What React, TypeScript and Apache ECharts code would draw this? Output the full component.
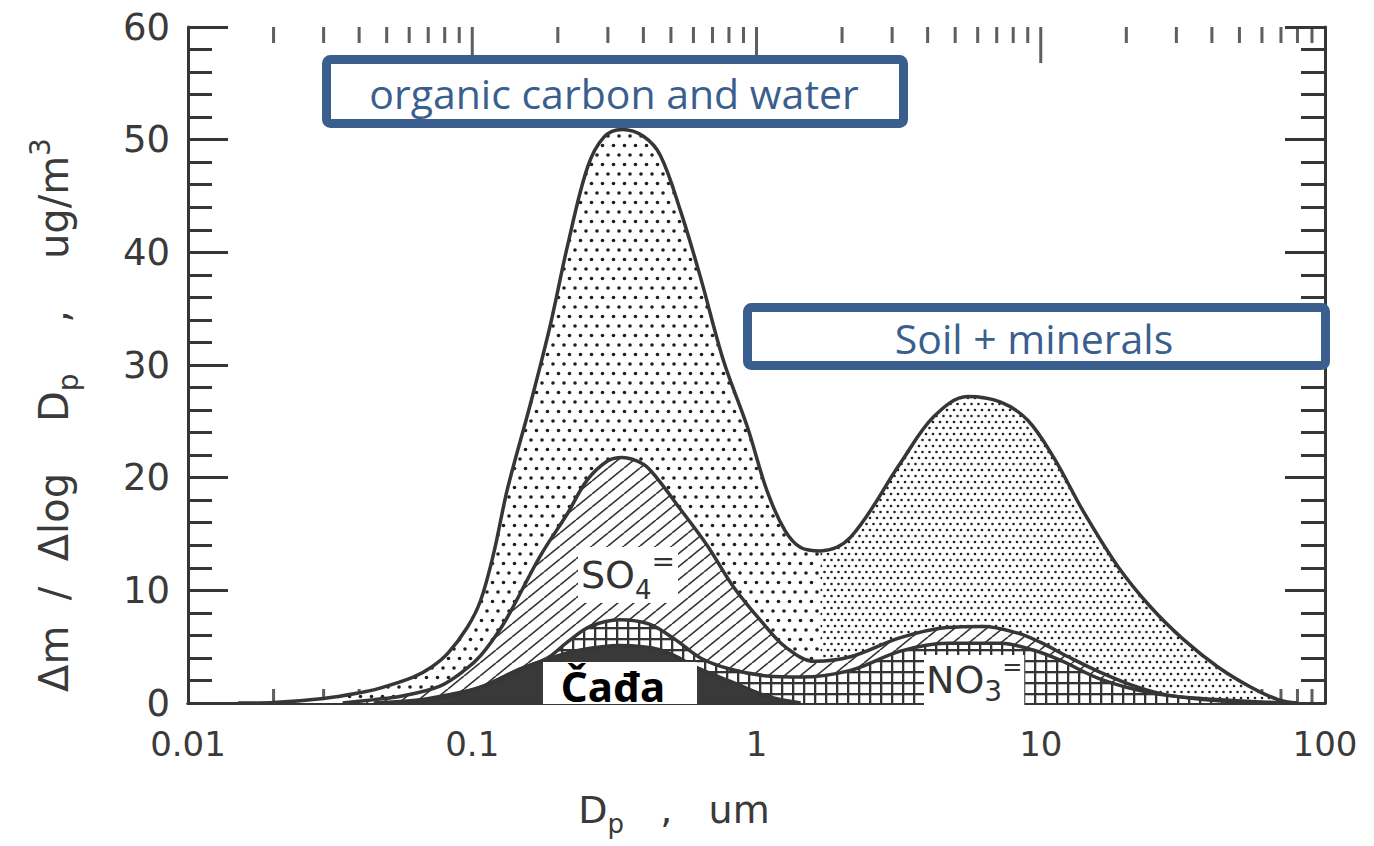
import React, { useEffect, useRef } from "react";
import * as echarts from "echarts";

// ---- data (Dp in µm, cumulative Δm/Δlog Dp in µg/m³) ----
const xTickLabels = ["0.01", "0.1", "1", "10", "100"];

// upper envelope, fine part (organic carbon and water region)
const totalFine: [number, number][] = [
  [0.015, 0], [0.02, 0.05], [0.03, 0.4], [0.04, 0.9], [0.047, 1.3], [0.062, 2.3],
  [0.072, 3.2], [0.082, 4.4], [0.096, 6.7], [0.107, 9.1], [0.119, 13.3], [0.133, 19.0],
  [0.16, 26.5], [0.188, 33.5], [0.216, 40.5], [0.254, 47.5], [0.29, 50.2], [0.337, 50.9],
  [0.4, 50.3], [0.459, 48.6], [0.54, 43.7], [0.635, 37.8], [0.765, 30.4], [0.929, 24.5],
  [1.09, 18.8], [1.26, 15.3], [1.43, 13.8], [1.68, 13.5],
];

// upper envelope, coarse part (soil + minerals region)
const totalCoarse: [number, number][] = [
  [1.68, 13.5], [2.14, 14.7], [3.21, 21.3], [4.2, 25.4], [5.53, 27.2], [7.23, 26.7],
  [9.0, 25.1], [11.1, 21.8], [14.2, 16.9], [18.7, 12.1], [24.4, 8.5], [31.9, 5.6],
  [42, 3.2], [54.9, 1.4], [68.4, 0.3], [80, 0],
];

// top of the sulfate (hatched) layer
const sulfateTop: [number, number][] = [
  [0.035, 0], [0.045, 0.3], [0.056, 0.6], [0.077, 1.5], [0.095, 3], [0.107, 4.2],
  [0.125, 6.5], [0.139, 8.5], [0.173, 13], [0.216, 16.8], [0.254, 19.8], [0.3, 21.5],
  [0.337, 21.8], [0.4, 21.2], [0.445, 20], [0.54, 17.2], [0.67, 14], [0.83, 10.3],
  [1.06, 7.0], [1.26, 5.0], [1.6, 3.7], [2.14, 4.1], [3.21, 5.8], [4.67, 6.7],
  [6.3, 6.8], [8.3, 6.2], [9.95, 5.4], [12.5, 4.1], [16.3, 2.7], [21.4, 1.5],
  [28, 0.7], [42, 0.2], [65, 0],
];

// top of the nitrate (grid) layer
const nitrateTop: [number, number][] = [
  [0.06, 0], [0.077, 0.4], [0.107, 1.4], [0.147, 3.0], [0.184, 4.0], [0.216, 5.4],
  [0.26, 6.8], [0.33, 7.4], [0.42, 7.0], [0.52, 5.6], [0.635, 4.0], [0.81, 3.0],
  [1.09, 2.4], [1.43, 2.3], [2.14, 2.9], [3.21, 4.6], [4.67, 5.3], [7.23, 5.3],
  [9.4, 4.7], [11.7, 3.8], [16.3, 2.1], [24.4, 0.9], [36.7, 0.4], [60, 0.1], [76, 0],
];

// top of the soot (Čađa, solid) layer
const sootTop: [number, number][] = [
  [0.045, 0], [0.0655, 0.3], [0.085, 0.8], [0.107, 1.4], [0.147, 3.0], [0.184, 3.9],
  [0.24, 4.7], [0.33, 5.1], [0.46, 4.7], [0.635, 3.0], [0.83, 1.8], [1.09, 0.6], [1.43, 0],
];

// log ticks drawn on the top and bottom frame lines
const minorTickValues = [
  0.02, 0.03, 0.04, 0.05, 0.06, 0.07, 0.08, 0.09,
  0.2, 0.3, 0.4, 0.5, 0.6, 0.7, 0.8, 0.9,
  2, 3, 4, 5, 6, 7, 8, 9,
  20, 30, 40, 50, 60, 70, 80, 90,
];
const majorTickValues = [0.1, 1, 10];

const INK = "#363636";
const BLUE = "#3a5f8e";
const AXIS_FONT = "DejaVu Sans";
const LABEL_INK = "#3a3a3a";

function makeTile(w: number, h: number, draw: (c: CanvasRenderingContext2D) => void) {
  const c = document.createElement("canvas");
  c.width = w;
  c.height = h;
  const ctx = c.getContext("2d")!;
  ctx.fillStyle = "#ffffff";
  ctx.fillRect(0, 0, w, h);
  draw(ctx);
  return { image: c, repeat: "repeat", imageWidth: w, imageHeight: h } as any;
}

function dots(ctx: CanvasRenderingContext2D, pts: number[][], r: number) {
  ctx.fillStyle = "#1e1e1e";
  pts.forEach(([x, y]) => {
    ctx.beginPath();
    ctx.arc(x, y, r, 0, Math.PI * 2);
    ctx.fill();
  });
}

export default function App() {
  const ref = useRef<HTMLDivElement>(null);

  useEffect(() => {
    document.body.style.margin = "0";
    if (!ref.current) return;
    const chart = echarts.init(ref.current, null, { renderer: "svg" });

    const sparseDots = makeTile(22, 19, (c) =>
      dots(c, [[3, 3], [14, 3], [8.5, 12.5], [19.5, 12.5]], 1.8)
    );
    const denseDots = makeTile(14, 12, (c) =>
      dots(c, [[2, 2], [9, 2], [5.5, 8], [12.5, 8]], 1.3)
    );
    const hatch = makeTile(16, 13, (c) => {
      c.strokeStyle = "#333";
      c.lineWidth = 1.6;
      [[0, 13, 16, 0], [-16, 13, 0, 0], [16, 13, 32, 0]].forEach(([a, b, d, e]) => {
        c.beginPath();
        c.moveTo(a, b);
        c.lineTo(d, e);
        c.stroke();
      });
    });
    const grid = makeTile(11, 11, (c) => {
      c.fillStyle = "#333";
      c.fillRect(0, 0, 11, 2.3);
      c.fillRect(0, 0, 2.3, 11);
    });

    const lineW = 3.5;
    const areaSeries = (name: string, data: [number, number][], fill: any, showLine: boolean) => ({
      name,
      type: "line",
      data,
      smooth: 0.35,
      symbol: "none",
      silent: true,
      itemStyle: { color: INK },
      lineStyle: { color: INK, width: showLine ? lineW : 0 },
      areaStyle: { color: fill, opacity: 1, origin: "start" },
    });

    const tickStyle = { color: INK, width: 3 };
    const tickSeries = (values: number[], y: number, h: number, dir: number, z: number) => ({
      type: "scatter",
      data: values.map((v) => [v, y]),
      symbol: "rect",
      symbolSize: [3, h],
      symbolOffset: [0, (dir * h) / 2],
      itemStyle: { color: INK },
      silent: true,
      clip: false,
      z,
    });

    const option: any = {
      animation: false,
      grid: { left: 188, right: 49, top: 27, bottom: 143 },
      xAxis: [
        {
          type: "log",
          logBase: 10,
          min: 0.01,
          max: 100,
          position: "bottom",
          axisLine: { show: true, lineStyle: { color: INK, width: 3 } },
          axisTick: { show: false },
          minorTick: { show: false },
          splitLine: { show: false },
          axisLabel: {
            formatter: (_v: number, i: number) => xTickLabels[i] ?? "",
            fontSize: 34,
            fontFamily: AXIS_FONT,
            color: LABEL_INK,
            margin: 24,
          },
          name: "D{sub|p}   ,   um",
          nameLocation: "middle",
          nameGap: 80,
          nameTextStyle: {
            fontSize: 38,
            fontFamily: AXIS_FONT,
            color: LABEL_INK,
            lineHeight: 54,
            padding: [0, 165, 0, 0],
            rich: {
              sub: { fontSize: 26, fontFamily: AXIS_FONT, color: LABEL_INK, verticalAlign: "bottom", lineHeight: 54 },
            },
          },
        },
        {
          type: "log",
          logBase: 10,
          min: 0.01,
          max: 100,
          position: "top",
          axisLine: { show: true, lineStyle: { color: INK, width: 3 } },
          axisTick: { show: false },
          minorTick: { show: false },
          splitLine: { show: false },
          axisLabel: { show: false },
        },
      ],
      yAxis: [
        {
          type: "value",
          min: 0,
          max: 60,
          interval: 10,
          position: "left",
          axisLine: { show: true, lineStyle: { color: INK, width: 3 } },
          axisTick: { show: true, inside: true, length: 40, lineStyle: tickStyle },
          minorTick: { show: true, splitNumber: 5, length: 24, lineStyle: tickStyle },
          splitLine: { show: false },
          axisLabel: { fontSize: 37, fontFamily: AXIS_FONT, color: LABEL_INK, margin: 18 },
          name: "Δm  /  Δlog    D{sub|p}    ,    ug/m{sup|3}",
          nameLocation: "middle",
          nameGap: 106,
          nameTextStyle: {
            fontSize: 40,
            fontFamily: AXIS_FONT,
            color: LABEL_INK,
            lineHeight: 56,
            padding: [0, 100, 0, 0],
            rich: {
              sub: { fontSize: 28, fontFamily: AXIS_FONT, color: LABEL_INK, verticalAlign: "bottom", lineHeight: 56 },
              sup: { fontSize: 28, fontFamily: AXIS_FONT, color: LABEL_INK, verticalAlign: "top", lineHeight: 56 },
            },
          },
        },
        {
          type: "value",
          min: 0,
          max: 60,
          interval: 10,
          position: "right",
          axisLine: { show: true, lineStyle: { color: INK, width: 3 } },
          axisTick: { show: true, inside: true, length: 40, lineStyle: tickStyle },
          minorTick: { show: true, splitNumber: 5, length: 24, lineStyle: tickStyle },
          splitLine: { show: false },
          axisLabel: { show: false },
        },
      ],
      series: [
        tickSeries(minorTickValues, 0, 14, -1, 1),
        tickSeries(majorTickValues, 0, 18, -1, 1),
        areaSeries("organic carbon and water", totalFine, sparseDots, false),
        areaSeries("soil + minerals", totalCoarse, denseDots, false),
        areaSeries("SO4", sulfateTop, hatch, true),
        areaSeries("NO3", nitrateTop, grid, true),
        areaSeries("Čađa", sootTop, "#393939", true),
        {
          name: "total",
          type: "line",
          data: totalFine.concat(totalCoarse.slice(1)),
          smooth: 0.35,
          symbol: "none",
          silent: true,
          lineStyle: { color: INK, width: lineW },
          itemStyle: { color: INK },
          z: 5,
        },
        tickSeries(minorTickValues, 60, 16, 1, 6),
        tickSeries(majorTickValues, 60, 36, 1, 6),
      ],
      graphic: [
        {
          type: "rect",
          z: 100,
          shape: { x: 326.5, y: 59.5, width: 577, height: 64, r: 4 },
          style: { fill: "#ffffff", stroke: BLUE, lineWidth: 9 },
        },
        {
          type: "text",
          z: 101,
          x: 614,
          y: 93,
          style: {
            text: "organic carbon and water",
            fontSize: 41,
            fontFamily: "Open Sans",
            fill: BLUE,
            align: "center",
            verticalAlign: "middle",
          },
        },
        {
          type: "rect",
          z: 100,
          shape: { x: 747.5, y: 307.5, width: 578, height: 58, r: 4 },
          style: { fill: "#ffffff", stroke: BLUE, lineWidth: 9 },
        },
        {
          type: "text",
          z: 101,
          x: 1034,
          y: 338,
          style: {
            text: "Soil + minerals",
            fontSize: 41,
            fontFamily: "Open Sans",
            fill: BLUE,
            align: "center",
            verticalAlign: "middle",
          },
        },
        {
          type: "rect",
          z: 100,
          shape: { x: 543, y: 662, width: 154, height: 42 },
          style: { fill: "#ffffff" },
        },
        {
          type: "text",
          z: 101,
          x: 613,
          y: 685,
          style: {
            text: "Čađa",
            fontSize: 42,
            fontWeight: "bold",
            fontFamily: "Noto Sans",
            fill: "#000000",
            align: "center",
            verticalAlign: "middle",
          },
        },
        {
          type: "text",
          z: 101,
          x: 578,
          y: 575,
          style: {
            text: "{m|SO}{s|4}{e|=}",
            backgroundColor: "#ffffff",
            padding: [0, 3, 0, 3],
            rich: {
              m: { fontSize: 38, fontFamily: AXIS_FONT, fill: "#333", verticalAlign: "middle", lineHeight: 56 },
              s: { fontSize: 26, fontFamily: AXIS_FONT, fill: "#333", verticalAlign: "bottom", lineHeight: 56 },
              e: { fontSize: 28, fontFamily: AXIS_FONT, fill: "#333", verticalAlign: "top", lineHeight: 56 },
            },
            verticalAlign: "middle",
          },
        },
        {
          type: "text",
          z: 101,
          x: 924,
          y: 680,
          style: {
            text: "{m|NO}{s|3}{e|=}",
            backgroundColor: "#ffffff",
            padding: [0, 2, 0, 2],
            rich: {
              m: { fontSize: 38, fontFamily: AXIS_FONT, fill: "#333", verticalAlign: "middle", lineHeight: 50 },
              s: { fontSize: 28, fontFamily: AXIS_FONT, fill: "#333", verticalAlign: "bottom", lineHeight: 50 },
              e: { fontSize: 24, fontFamily: AXIS_FONT, fill: "#333", verticalAlign: "top", lineHeight: 50 },
            },
            verticalAlign: "middle",
          },
        },
      ],
    };

    chart.setOption(option);
    return () => chart.dispose();
  }, []);

  return <div ref={ref} style={{ width: 1374, height: 846 }} />;
}
